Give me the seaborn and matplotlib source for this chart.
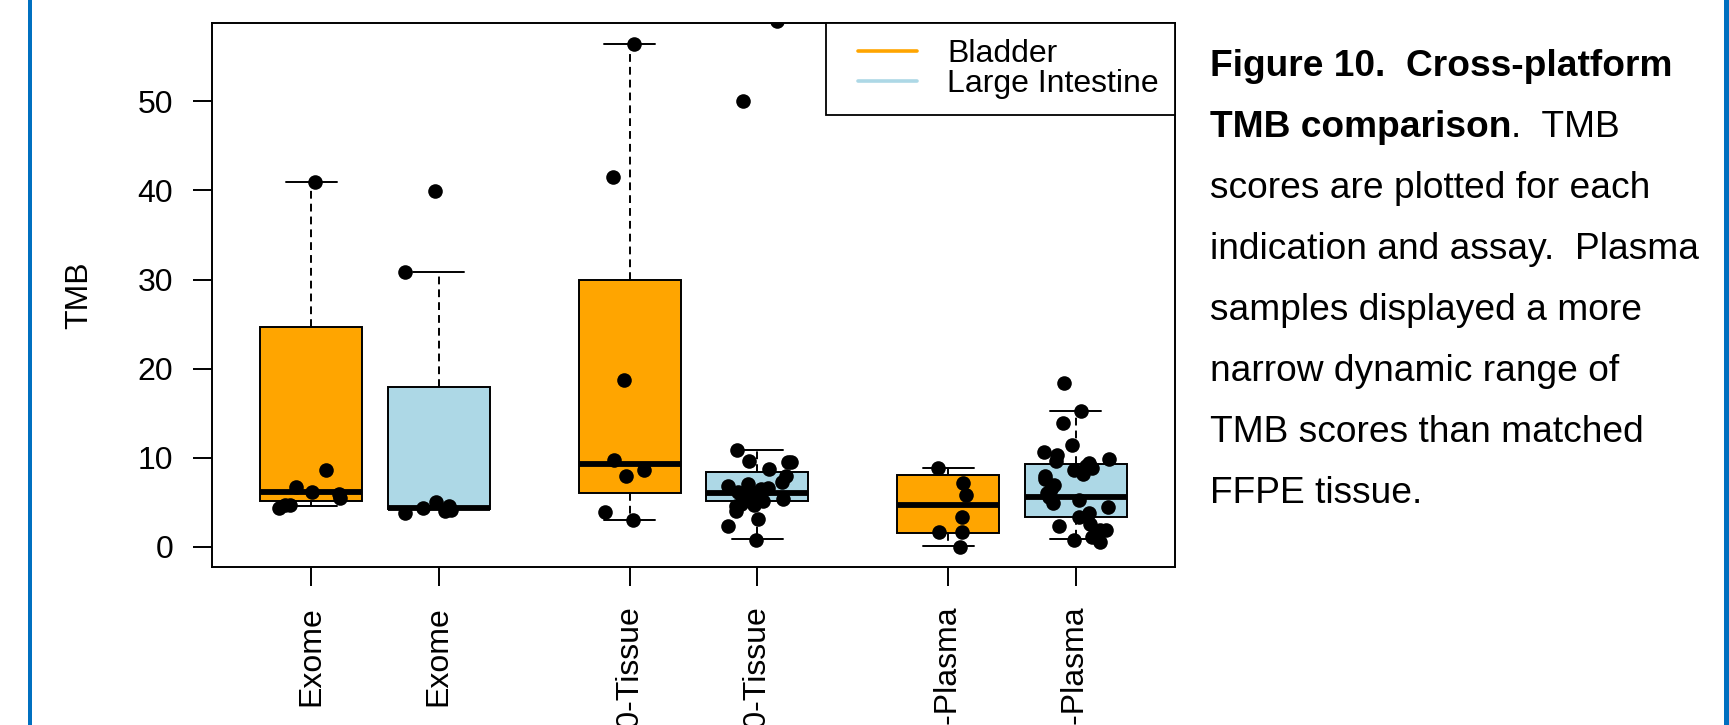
import numpy as np
import pandas as pd
import matplotlib
matplotlib.use("Agg")
import matplotlib.pyplot as plt
import seaborn as sns
from matplotlib.lines import Line2D
from matplotlib.patches import Rectangle
from matplotlib.legend_handler import HandlerLine2D

# ---- data ----
assays = ["Exome", "Exome", "TSO500-Tissue", "TSO500-Tissue", "TSO500-Plasma", "TSO500-Plasma"]
tissues = ["Bladder", "Large Intestine", "Bladder", "Large Intestine", "Bladder", "Large Intestine"]

# box summaries: lower whisker, Q1, median, Q3, upper whisker
whisk_lo = [4.55, 4.2, 3.0, 0.83, 0.08, 0.83]
q1 = [5.13, 4.2, 6.06, 5.13, 1.61, 3.3]
median = [6.14, 4.35, 9.28, 6.06, 4.68, 5.61]
q3 = [24.69, 18.0, 29.93, 8.35, 8.12, 9.25]
whisk_hi = [41.0, 30.9, 56.4, 10.85, 8.8, 15.23]

# individual TMB scores
exome_bladder = [41.0, 8.6, 6.7, 6.2, 5.9, 5.5, 4.7, 4.7, 4.4]
exome_li = [39.9, 30.9, 5.0, 4.6, 4.4, 4.1, 4.0, 3.8]
tissue_bladder = [56.4, 41.5, 18.7, 9.8, 8.6, 7.9, 3.9, 3.0]
tissue_li = [59.0, 50.0, 10.9, 9.6, 9.5, 9.5, 8.7, 7.9, 7.3, 7.1, 6.8, 6.6, 6.5,
             6.3, 6.2, 6.1, 6.0, 5.9, 5.8, 5.6, 5.4, 5.2, 5.0, 4.8, 4.7, 4.6,
             4.0, 3.1, 2.3, 0.8]
plasma_bladder = [8.9, 7.2, 5.8, 3.3, 1.7, 1.7, 0.0]
plasma_li = [18.4, 15.3, 13.9, 11.4, 10.7, 10.3, 9.9, 9.6, 9.4, 9.1, 8.8, 8.6,
             8.2, 8.0, 7.6, 7.0, 6.5, 6.0, 5.6, 5.3, 4.9, 4.5, 3.8, 3.4, 2.6,
             2.3, 1.9, 1.9, 1.1, 0.8, 0.6]
scores = [exome_bladder, exome_li, tissue_bladder, tissue_li, plasma_bladder, plasma_li]

caption = [
    ("Figure 10.  Cross-platform", ""),
    ("TMB comparison", ".  TMB"),
    ("", "scores are plotted for each"),
    ("", "indication and assay.  Plasma"),
    ("", "samples displayed a more"),
    ("", "narrow dynamic range of"),
    ("", "TMB scores than matched"),
    ("", "FFPE tissue."),
]

# ---- layout ----
slot_x = [1, 2, 3.5, 4.5, 6, 7]   # box positions, with gaps between assays
colors = {"Bladder": "#FFA500", "Large Intestine": "#ADD8E6"}
FS = 23

box_df = pd.DataFrame([
    {"slot": slot_x[i], "tissue": tissues[i], "TMB": v}
    for i in range(len(assays))
    for v in (whisk_lo[i], q1[i], median[i], q3[i], whisk_hi[i])
])
pts_df = pd.DataFrame([
    {"slot": slot_x[i], "TMB": v}
    for i in range(len(assays))
    for v in scores[i]
])

sns.set_style("ticks", {"axes.edgecolor": "black", "xtick.color": "black",
                        "ytick.color": "black", "text.color": "black",
                        "axes.labelcolor": "black"})
plt.rcParams["font.family"] = ["Liberation Sans", "DejaVu Sans"]

fig = plt.figure(figsize=(17.29, 7.25), dpi=100)
ax = fig.add_axes([0.1226, 0.2179, 0.5570, 0.7499])

sns.boxplot(data=box_df, x="slot", y="TMB", hue="tissue", palette=colors,
            native_scale=True, dodge=False, width=0.8, saturation=1,
            whis=(0, 100), linecolor="black", linewidth=1.4,
            medianprops={"linewidth": 4.2, "color": "black"},
            whiskerprops={"linestyle": (0, (4, 2.6))},
            legend=False, ax=ax)

np.random.seed(3)
sns.stripplot(data=pts_df, x="slot", y="TMB", native_scale=True, color="black",
              size=10.5, jitter=0.28, linewidth=0, zorder=3, ax=ax)

ax.set_xlim(0.22, 7.78)
ax.set_ylim(-2.26, 58.76)
ax.set_yticks([0, 10, 20, 30, 40, 50])
ax.set_xticks(slot_x, labels=assays, rotation=90)
ax.tick_params(axis="both", length=13.5, width=1.4, labelsize=FS, pad=14.5)
for s in ax.spines.values():
    s.set_visible(True)
    s.set_linewidth(1.4)
ax.set_xlabel("")
ax.set_ylabel("TMB", fontsize=FS)
ax.yaxis.set_label_coords(-0.138, 0.5)
ax.yaxis.label.set_va("center")

handles = [Line2D([], [], color=colors[t], lw=2.6) for t in colors]
leg = ax.legend(handles, list(colors), loc="upper right", bbox_to_anchor=(1, 1),
                borderaxespad=0, fontsize=FS, frameon=True, fancybox=False,
                edgecolor="black", framealpha=1, borderpad=0.5,
                handlelength=2.35, handletextpad=0.94, labelspacing=0.0,
                handler_map={Line2D: HandlerLine2D(xpad=0.5)})
leg.get_frame().set_linewidth(1.3)

# caption on the right
cap_x = 1210 / 1729
for i, (bold, normal) in enumerate(caption):
    y = 1 - (76.3 + 61.0 * i) / 725
    if bold:
        t = fig.text(cap_x, y, bold, fontsize=26.7, weight="bold", va="baseline")
        if normal:
            ax.annotate(normal, xy=(1, 0), xycoords=t, fontsize=26.7,
                        va="bottom", ha="left")
    else:
        fig.text(cap_x, y, normal, fontsize=26.7, va="baseline")

# blue panel borders
blue = "#0070C0"
fig.add_artist(Rectangle((28 / 1729, 0), 4 / 1729, 1, transform=fig.transFigure,
                         color=blue, lw=0))
fig.add_artist(Rectangle((1724 / 1729, 0), 5 / 1729, 1, transform=fig.transFigure,
                         color=blue, lw=0))

fig.savefig("out.png", dpi=100)
